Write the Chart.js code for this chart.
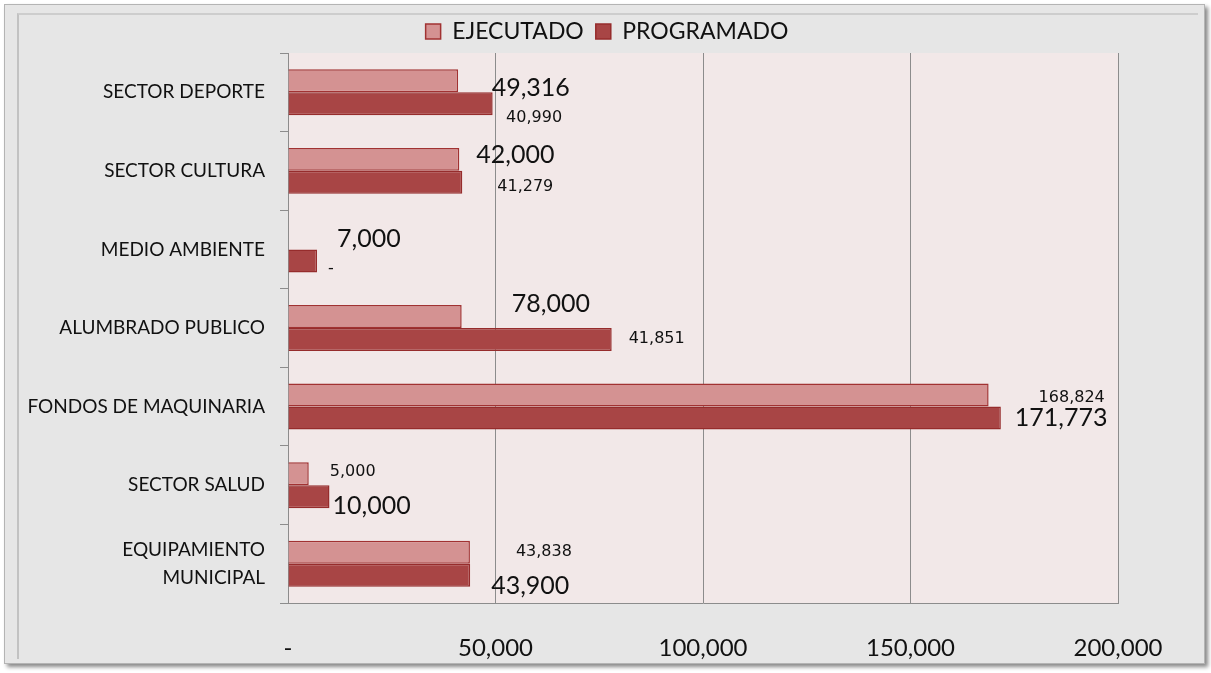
<!DOCTYPE html>
<html>
<head>
<meta charset="utf-8">
<script src="https://cdn.jsdelivr.net/npm/chart.js@4.4.1/dist/chart.umd.min.js"></script>
<style>
html, body { margin: 0; padding: 0; background: #fff; }
#frame { position: absolute; left: 4px; top: 4px; width: 1199px; height: 658px; background: #e6e6e6; border: 1px solid #b4b4b4; box-shadow: 3px 3px 4px #8a8a8a; }
#inner { position: absolute; left: 12px; top: 8px; right: 6px; bottom: 4px; border-left: 2px solid #c2c2c2; border-top: 2px solid #cdcdcd; }
#wrap { position: absolute; left: 0; top: 0; width: 1211px; height: 673px; }
</style>
</head>
<body>
<div id="frame"><div id="inner"></div></div>
<div id="wrap"><canvas id="sectorChart"></canvas></div>
<script>
// Inversion por sector
const sectores = [
    'SECTOR DEPORTE',
    'SECTOR CULTURA',
    'MEDIO AMBIENTE',
    'ALUMBRADO PUBLICO',
    'FONDOS DE MAQUINARIA',
    'SECTOR SALUD',
    ['EQUIPAMIENTO', 'MUNICIPAL']
];
const ejecutado = [40990, 41279, 0, 41851, 168824, 5000, 43838];
const programado = [49316, 42000, 7000, 78000, 171773, 10000, 43900];
const ejeTicks = [0, 50000, 100000, 150000, 200000];

const fmt = v => v === 0 ? '-' : v.toLocaleString('en-US');

// the labels in the original were dragged by hand, so each one gets a nudge (px)
const nudgeEjecutado = [[48, 37], [38, 27], [40, 31], [167, 22], [50, 3], [21, -2], [46, 0]];
const nudgeProgramado = [[-1, -16], [14, -27], [20, -22], [-100, -36], [14, 0], [3, 9], [21, 11]];

const plotBg = {
    id: 'plotBg',
    beforeDraw(chart) {
        const a = chart.chartArea;
        const ctx = chart.ctx;
        ctx.save();
        ctx.fillStyle = '#f2e8e8';
        ctx.fillRect(a.left, a.top, a.right - a.left, a.bottom - a.top);
        ctx.restore();
    }
};

// legend sits a bit right of the canvas centre in the original
const legendShift = {
    id: 'legendShift',
    afterLayout(chart) {
        chart.legend.left += 96;
    }
};

const valueLabels = {
    id: 'valueLabels',
    afterDatasetsDraw(chart) {
        const ctx = chart.ctx;
        ctx.save();
        ctx.fillStyle = '#111';
        ctx.textBaseline = 'middle';
        ctx.textAlign = 'left';
        chart.getDatasetMeta(0).data.forEach((bar, i) => {
            ctx.font = '16px "DejaVu Sans"';
            ctx.fillText(fmt(ejecutado[i]), bar.x + nudgeEjecutado[i][0], bar.y + nudgeEjecutado[i][1]);
        });
        chart.getDatasetMeta(1).data.forEach((bar, i) => {
            ctx.font = '25px Lato';
            ctx.fillText(fmt(programado[i]), bar.x + nudgeProgramado[i][0], bar.y + nudgeProgramado[i][1]);
        });
        ctx.restore();
    }
};

const sectorData = {
    labels: sectores,
    datasets: [{
        label: 'EJECUTADO',
        data: ejecutado,
        backgroundColor: '#d49292',
        borderColor: '#a13232',
        borderWidth: 1.5
    }, {
        label: 'PROGRAMADO',
        data: programado,
        backgroundColor: '#a84545',
        borderColor: '#962c2c',
        borderWidth: 1.5
    }]
};

const config = {
    type: 'bar',
    data: sectorData,
    plugins: [plotBg, legendShift, valueLabels],
    options: {
        indexAxis: 'y',
        responsive: false,
        animation: false,
        categoryPercentage: 0.585,
        barPercentage: 1,
        layout: { padding: { left: 0, right: 93, top: 8, bottom: 0 } },
        plugins: {
            tooltip: { enabled: false },
            legend: {
                position: 'top',
                labels: {
                    font: { family: 'Lato', size: 23 },
                    color: '#111',
                    boxWidth: 15,
                    boxHeight: 15,
                    padding: 12
                }
            }
        },
        scales: {
            x: {
                min: ejeTicks[0],
                max: ejeTicks[ejeTicks.length - 1],
                afterBuildTicks: s => { s.ticks = ejeTicks.map(v => ({ value: v })); },
                afterFit: s => { s.height = 70; },
                grid: { color: '#8c8c8c', drawTicks: false },
                border: { color: '#8c8c8c' },
                ticks: {
                    padding: 31,
                    color: '#111',
                    font: { family: 'Lato', size: 24 },
                    callback: v => fmt(v)
                }
            },
            y: {
                afterFit: s => { s.width = 288; },
                grid: { drawOnChartArea: false, color: '#8c8c8c', tickLength: 8 },
                border: { color: '#8c8c8c' },
                ticks: {
                    padding: 15,
                    color: '#111',
                    font: { family: 'Lato', size: 19, lineHeight: 1.45 }
                }
            }
        }
    }
};

const canvas = document.getElementById('sectorChart');
canvas.width = 1211;
canvas.height = 673;
const sectorChart = new Chart(canvas, config);
</script>
</body>
</html>
